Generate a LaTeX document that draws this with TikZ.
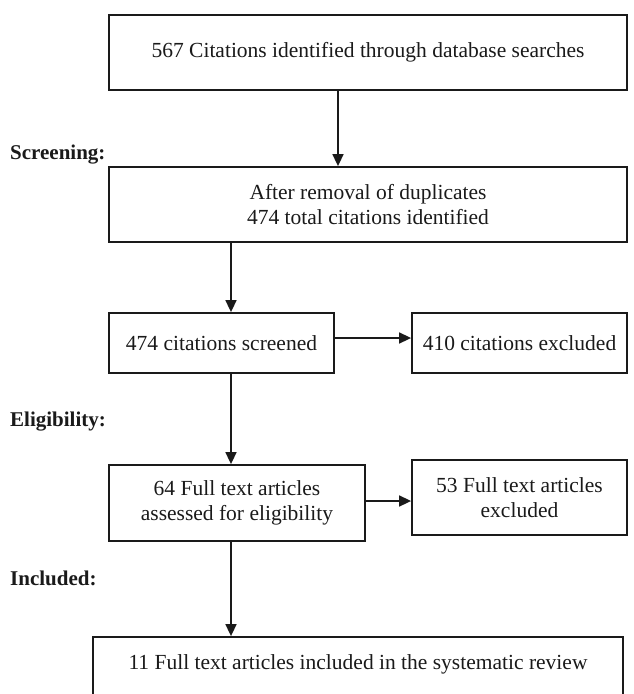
\documentclass[tikz,border=0pt]{standalone}
\usepackage{fontspec}
\setmainfont{Liberation Serif}
\usetikzlibrary{arrows.meta}
\definecolor{ink}{HTML}{1A1A1A}
\tikzset{
  flowbox/.style={draw=ink, line width=1.8pt, inner sep=0pt, align=center,
    text=ink, font=\fontsize{21.5}{25}\selectfont},
  stagelabel/.style={anchor=west, inner sep=0pt, text=ink,
    font=\fontsize{21}{25}\selectfont\bfseries},
  arr/.style={draw=ink, line width=1.6pt, -{Triangle[length=12pt,width=11pt]}}
}
\begin{document}
\begin{tikzpicture}[x=1pt,y=-1pt]
\useasboundingbox (0,0) rectangle (633,694);
\clip (0,0) rectangle (633,694);
\fill[white] (0,0) rectangle (633,694);

% boxes
\node[flowbox, minimum width=518pt, minimum height=75pt] (b1) at (368,52.5)
  {567 Citations identified through database searches};
\node[flowbox, minimum width=518pt, minimum height=75pt] (b2) at (368,204.5)
  {After removal of duplicates\\474 total citations identified};
\node[flowbox, minimum width=225pt, minimum height=60pt] (b3) at (221.5,343)
  {474 citations screened};
\node[flowbox, minimum width=215pt, minimum height=60pt] (b4) at (519.5,343)
  {410 citations excluded};
\node[flowbox, minimum width=256pt, minimum height=76pt] (b5) at (237,503)
  {64 Full text articles\\assessed for eligibility};
\node[flowbox, minimum width=215pt, minimum height=75pt] (b6) at (519.5,497.5)
  {53 Full text articles\\excluded};
\node[flowbox, minimum width=530pt, minimum height=80pt, text height=15pt, text depth=31pt] (b7) at (358,677)
  {11 Full text articles included in the systematic review};

% stage labels
\node[stagelabel] (lscr) at (10,155) {Screening:};
\node[stagelabel] (lelig) at (10,422) {Eligibility:};
\node[stagelabel] (lincl) at (10,578) {Included:};

% connector guides
\coordinate (cx1) at (338,0);
\coordinate (cx2) at (231,0);
\coordinate (cy1) at (0,338);
\coordinate (cy2) at (0,501);

% connectors
\draw[arr] (b1.south -| cx1) -- (b2.north -| cx1);
\draw[arr] (b2.south -| cx2) -- (b3.north -| cx2);
\draw[arr] (b3.east |- cy1) -- (b4.west |- cy1);
\draw[arr] (b3.south -| cx2) -- (b5.north -| cx2);
\draw[arr] (b5.east |- cy2) -- (b6.west |- cy2);
\draw[arr] (b5.south -| cx2) -- (b7.north -| cx2);
\end{tikzpicture}
\end{document}
